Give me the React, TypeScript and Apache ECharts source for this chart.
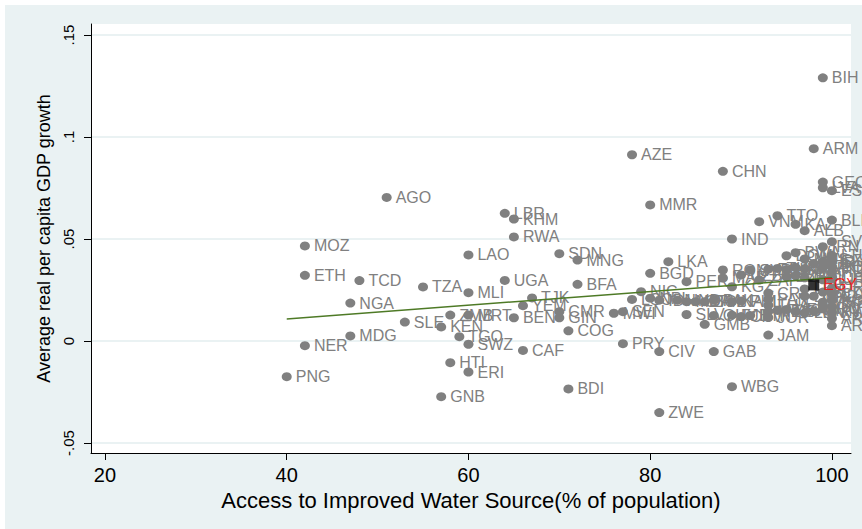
import React, { useEffect, useRef } from "react";
import * as echarts from "echarts";

const countries = [
  "AGO", "LBR", "KHM", "RWA", "MOZ", "LAO", "SDN", "MNG", "ETH", "TCD",
  "UGA", "TZA", "MLI", "BFA", "NGA", "TJK", "YEM", "ZMB", "MRT", "BEN",
  "SLE", "KEN", "MDG", "TGO", "NER", "SWZ", "CAF", "HTI", "ERI", "PNG",
  "GNB", "BDI", "CMR", "GIN", "COG", "BIH", "AZE", "ARM", "CHN", "GEO",
  "LVA", "EST", "MMR", "TTO", "VNM", "KAZ", "ALB", "BLR", "IND", "SVK",
  "IRN", "DOM", "BWA", "MUS", "LTU", "TUR", "HRV", "LKA", "BGD", "PER",
  "ROM", "TUN", "KGZ", "UZB", "SYR", "ECU", "UKR", "RUS", "BGR", "MKD",
  "POL", "MAR", "ZAF", "DZA", "BRA", "COL", "CHL", "SEN", "MWI", "PRY",
  "CIV", "GAB", "WBG", "ZWE", "SLV", "GMB", "JAM", "NIC", "LSO", "NPL",
  "IDN", "HND", "MDA", "GTM", "BOL", "PAK", "NAM", "PHL", "CRI", "PAN",
  "THA", "MEX", "JOR", "MYS", "VEN", "SAU", "LBN", "OMN", "GUY", "FJI",
  "CPV", "BTN", "CZE", "HUN", "URY", "CUB", "KOR", "SVN", "KWT", "ARE",
  "ARG", "SUR", "BLZ", "MNE", "IRQ", "LBY", "GRD", "DMA",
];

const waterAccess = [
  51, 64, 65, 65, 42, 60, 70, 72, 42, 48,
  64, 55, 60, 72, 47, 67, 66, 58, 60, 65,
  53, 57, 47, 59, 42, 60, 66, 58, 60, 40,
  57, 71, 70, 70, 71, 99, 78, 98, 88, 99,
  99, 100, 80, 94, 92, 96, 97, 100, 89, 100,
  99, 95, 96, 97, 100, 98, 99, 82, 80, 84,
  88, 94, 89, 90, 91, 93, 95, 96, 97, 99,
  100, 88, 92, 95, 96, 97, 100, 77, 76, 77,
  81, 87, 89, 81, 84, 86, 93, 79, 78, 80,
  81, 83, 84, 85, 86, 87, 89, 90, 93, 93,
  93, 93, 93, 94, 95, 96, 97, 98, 87, 89,
  90, 91, 100, 100, 100, 100, 100, 100, 100, 100,
  100, 99, 99, 99, 99, 97, 98, 97,
];

const gdpGrowth = [
  0.0704, 0.0626, 0.0598, 0.051, 0.0466, 0.0422, 0.0428, 0.0397, 0.0322, 0.0296,
  0.0297, 0.0265, 0.0237, 0.0278, 0.0186, 0.0211, 0.0173, 0.0127, 0.0127, 0.0114,
  0.0093, 0.0069, 0.0025, 0.0021, -0.0023, -0.0016, -0.0046, -0.0106, -0.0152, -0.0175,
  -0.0273, -0.0235, 0.0144, 0.0114, 0.005, 0.129, 0.0913, 0.0943, 0.0832, 0.0779,
  0.0751, 0.0737, 0.0667, 0.0614, 0.0585, 0.0572, 0.0541, 0.0593, 0.05, 0.0487,
  0.0462, 0.0418, 0.0433, 0.0402, 0.042, 0.038, 0.039, 0.0389, 0.0332, 0.0291,
  0.0348, 0.0356, 0.0266, 0.0323, 0.0348, 0.0352, 0.035, 0.036, 0.0355, 0.036,
  0.0365, 0.0309, 0.0299, 0.0315, 0.032, 0.031, 0.031, 0.0144, 0.0136, -0.0013,
  -0.0052, -0.0052, -0.0224, -0.0351, 0.013, 0.0082, 0.0029, 0.0242, 0.0204, 0.021,
  0.02, 0.02, 0.0193, 0.0193, 0.0193, 0.02, 0.0193, 0.0196, 0.0235, 0.0205,
  0.0175, 0.0145, 0.0115, 0.015, 0.0155, 0.0145, 0.0138, 0.0148, 0.0125, 0.0127,
  0.012, 0.0125, 0.0395, 0.034, 0.026, 0.023, 0.02, 0.017, 0.014, 0.011,
  0.0075, 0.03, 0.024, 0.019, 0.016, 0.0255, 0.022, 0.022,
];

const highlightCountry = ["EGY"];
const highlightX = [98];
const highlightY = [0.0275];

const fitX = [40, 100];
const fitY = [0.0108, 0.031];

const xTickValues = [20, 40, 60, 80, 100];
const xTickLabels = ["20", "40", "60", "80", "100"];
const yTickValues = [-0.05, 0, 0.05, 0.1, 0.15];
const yTickLabels = ["-.05", "0", ".05", ".1", ".15"];

const xTitle = "Access to Improved Water Source(% of population)";
const yTitle = "Average real per capita GDP growth";

const FONT = "'Liberation Sans', Arial, Helvetica, sans-serif";
const GRAY = "#808080";
const BG = "#eaf2f3";

function lookup(values: number[], labels: string[], v: number): string {
  const i = values.findIndex((t) => Math.abs(t - v) < 1e-9);
  return i >= 0 ? labels[i] : "";
}

export default function App() {
  const ref = useRef<HTMLDivElement>(null);

  useEffect(() => {
    document.body.style.margin = "0";
    if (!ref.current) return;
    const chart = echarts.init(ref.current, undefined, { renderer: "svg" });

    const points = countries.map((c, i) => [waterAccess[i], gdpGrowth[i], c]);
    const hiPoints = highlightCountry.map((c, i) => [highlightX[i], highlightY[i], c]);
    const fitPoints = fitX.map((x, i) => [x, fitY[i]]);

    chart.setOption({
      animation: false,
      backgroundColor: BG,
      textStyle: { fontFamily: FONT },
      grid: {
        left: 86,
        right: 11,
        top: 19,
        bottom: 76,
        show: true,
        backgroundColor: "#ffffff",
        borderWidth: 0,
      },
      xAxis: {
        type: "value",
        min: 18.46,
        max: 102.1,
        splitLine: { show: false },
        axisLine: { show: true, onZero: false, lineStyle: { color: "#000", width: 1 } },
        axisTick: { show: true, length: 7, customValues: xTickValues, lineStyle: { color: "#000" } },
        axisLabel: {
          customValues: xTickValues,
          formatter: (v: number) => lookup(xTickValues, xTickLabels, v),
          fontSize: 20,
          color: "#000",
          margin: 12,
          fontFamily: FONT,
        },
        name: xTitle,
        nameLocation: "middle",
        nameGap: 34,
        nameTextStyle: { fontSize: 22, color: "#000", fontFamily: FONT },
      },
      yAxis: {
        type: "value",
        min: -0.0549,
        max: 0.1554,
        splitNumber: 5,
        splitLine: { show: true, lineStyle: { color: BG, width: 2, type: "solid" } },
        axisLine: { show: true, onZero: false, lineStyle: { color: "#000", width: 1 } },
        axisTick: { show: true, length: 7, customValues: yTickValues, lineStyle: { color: "#000" } },
        axisLabel: {
          customValues: yTickValues,
          rotate: 90,
          formatter: (v: number) => lookup(yTickValues, yTickLabels, v),
          fontSize: 15,
          color: "#000",
          margin: 15,
          fontFamily: FONT,
        },
        name: yTitle,
        nameLocation: "middle",
        nameGap: 38,
        nameRotate: 90,
        nameTextStyle: { fontSize: 18, color: "#000", fontFamily: FONT },
      },
      series: [
        {
          type: "scatter",
          data: points,
          symbol: "circle",
          symbolSize: [10, 9],
          z: 2,
          itemStyle: { color: GRAY, opacity: 1 },
          label: {
            show: true,
            position: "right",
            distance: 4,
            formatter: (p: any) => p.data[2],
            color: GRAY,
            fontSize: 16,
            fontFamily: FONT,
          },
          emphasis: { disabled: true },
        },
        {
          type: "line",
          data: fitPoints,
          showSymbol: false,
          z: 3,
          lineStyle: { color: "#4e7a26", width: 1.5 },
          emphasis: { disabled: true },
        },
        {
          type: "scatter",
          data: hiPoints,
          symbol: "rect",
          symbolSize: 11,
          zlevel: 1,
          z: 4,
          itemStyle: { color: "#000" },
          label: {
            show: true,
            position: "right",
            distance: 4,
            formatter: (p: any) => p.data[2],
            color: "#ff0000",
            fontSize: 16,
            fontFamily: FONT,
          },
          emphasis: { disabled: true },
        },
      ],
    });

    return () => chart.dispose();
  }, []);

  return (
    <div style={{ position: "fixed", left: 0, top: 0, width: 862, height: 529, background: "#fff", overflow: "hidden" }}>
      <div ref={ref} style={{ position: "absolute", left: 5, top: 5, width: 857, height: 524 }} />
    </div>
  );
}
